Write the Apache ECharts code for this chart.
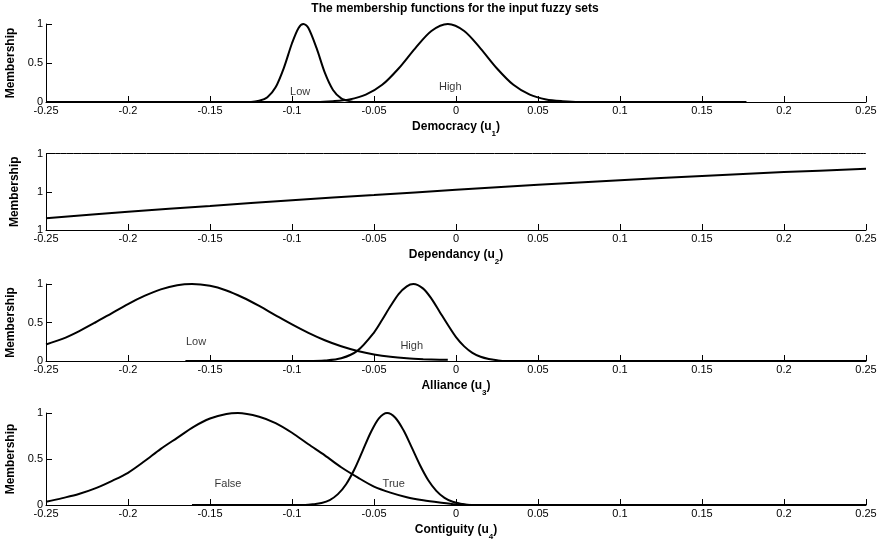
<!DOCTYPE html>
<html>
<head>
<meta charset="utf-8">
<script src="https://cdn.jsdelivr.net/npm/echarts@6/dist/echarts.min.js"></script>
<style>
  html, body { margin: 0; padding: 0; background: #fff; }
  #chart { width: 878px; height: 547px; }
</style>
</head>
<body>
<div id="chart"></div>
<script>
// Membership functions of the four fuzzy inputs, sampled as [u, membership]

// Democracy (u1)
const democracyLow = [
  [-0.19, 0], [-0.125, 0], [-0.12, 0.015], [-0.115, 0.061], [-0.11, 0.188],
  [-0.105, 0.435], [-0.1, 0.753], [-0.096, 0.95], [-0.093, 1.0], [-0.09, 0.95],
  [-0.085, 0.69], [-0.08, 0.376], [-0.075, 0.154], [-0.07, 0.047],
  [-0.065, 0.011], [-0.06, 0], [0.177, 0]
];
const democracyHigh = [
  [-0.25, 0], [-0.085, 0], [-0.075, 0.01], [-0.065, 0.033], [-0.055, 0.094],
  [-0.045, 0.22], [-0.035, 0.43], [-0.025, 0.685], [-0.015, 0.91], [-0.005, 1.0],
  [0.005, 0.91], [0.015, 0.685], [0.025, 0.43], [0.035, 0.22], [0.045, 0.094],
  [0.055, 0.033], [0.065, 0.01], [0.075, 0], [0.177, 0]
];

// Dependancy (u2)
const dependancyRise = [
  [-0.25, 0.155], [-0.2, 0.24], [-0.15, 0.315], [-0.1, 0.39], [-0.05, 0.458],
  [0, 0.525], [0.05, 0.59], [0.1, 0.65], [0.15, 0.707], [0.2, 0.757], [0.25, 0.8]
];
const dependancyFlat = [[-0.25, 1], [0.25, 1]];

// Alliance (u3)
const allianceLow = [
  [-0.25, 0.215], [-0.24, 0.287], [-0.23, 0.386], [-0.22, 0.5], [-0.21, 0.62],
  [-0.2, 0.74], [-0.19, 0.845], [-0.18, 0.93], [-0.17, 0.984], [-0.161, 1.0],
  [-0.15, 0.976], [-0.14, 0.916], [-0.13, 0.825], [-0.12, 0.715], [-0.11, 0.594],
  [-0.1, 0.475], [-0.09, 0.365], [-0.08, 0.269], [-0.07, 0.191], [-0.06, 0.13],
  [-0.05, 0.085], [-0.04, 0.054], [-0.03, 0.035], [-0.02, 0.024], [-0.01, 0.017],
  [-0.005, 0.015]
];
const allianceHigh = [
  [-0.165, 0], [-0.09, 0], [-0.08, 0.006], [-0.07, 0.035], [-0.06, 0.135],
  [-0.05, 0.37], [-0.045, 0.535], [-0.04, 0.71], [-0.035, 0.87], [-0.03, 0.97],
  [-0.026, 1.0], [-0.02, 0.94], [-0.015, 0.81], [-0.01, 0.64], [-0.005, 0.47],
  [0, 0.31], [0.005, 0.19], [0.01, 0.106], [0.015, 0.055], [0.02, 0.026],
  [0.025, 0.01], [0.03, 0], [0.25, 0]
];

// Contiguity (u4)
const contiguityFalse = [
  [-0.25, 0.035], [-0.24, 0.075], [-0.23, 0.119], [-0.22, 0.18], [-0.21, 0.26],
  [-0.2, 0.35], [-0.19, 0.475], [-0.18, 0.61], [-0.17, 0.73], [-0.16, 0.85],
  [-0.15, 0.94], [-0.14, 0.99], [-0.133, 1.0], [-0.12, 0.96], [-0.11, 0.89],
  [-0.1, 0.785], [-0.09, 0.66], [-0.08, 0.54], [-0.07, 0.41], [-0.06, 0.3],
  [-0.05, 0.2], [-0.04, 0.135], [-0.03, 0.085], [-0.02, 0.052], [-0.01, 0.028],
  [0, 0.008], [0.01, 0]
];
const contiguityTrue = [
  [-0.161, 0], [-0.092, 0], [-0.087, 0.008], [-0.082, 0.022], [-0.077, 0.054],
  [-0.072, 0.118], [-0.067, 0.226], [-0.062, 0.386], [-0.057, 0.586],
  [-0.052, 0.788], [-0.047, 0.942], [-0.042, 1.0], [-0.037, 0.949],
  [-0.032, 0.812], [-0.027, 0.626], [-0.022, 0.435], [-0.017, 0.272],
  [-0.012, 0.154], [-0.007, 0.078], [-0.002, 0.036], [0.003, 0.015],
  [0.008, 0], [0.25, 0]
];

// Term names and the axis names of each input
const democracyTerms = ['Low', 'High'];
const allianceTerms = ['Low', 'High'];
const contiguityTerms = ['False', 'True'];
const inputNames = ['Democracy', 'Dependancy', 'Alliance', 'Contiguity'];
const inputSubscripts = ['1', '2', '3', '4'];
const chartTitle = 'The membership functions for the input fuzzy sets';
const yTitle = 'Membership';

// Where each term name sits inside its panel (data units)
const termAnchors = [
  [[-0.095, 0.13], [-0.0035, 0.19]],
  null,
  [[-0.1585, 0.25], [-0.027, 0.2]],
  [[-0.139, 0.23], [-0.038, 0.23]]
];

const panels = [
  { top: 24, height: 78 },
  { top: 153.5, height: 76.5 },
  { top: 284, height: 77 },
  { top: 413, height: 92 }
];

const FONT = '"Liberation Sans", Arial, Helvetica, sans-serif';

const chart = echarts.init(document.getElementById('chart'), null, { renderer: 'canvas' });

const grids = panels.map(p => ({
  left: 46, right: 12, top: p.top, height: p.height,
  containLabel: false, outerBoundsMode: 'none'
}));

const xAxes = panels.map((p, i) => ({
  type: 'value', gridIndex: i, min: -0.25, max: 0.25, interval: 0.05,
  axisLine: { show: true, onZero: false, lineStyle: { color: '#000', width: 1 } },
  axisTick: { show: true, inside: true, length: 6, lineStyle: { color: '#000' } },
  splitLine: { show: false },
  axisLabel: {
    color: '#000', fontFamily: FONT, fontSize: 11, margin: 3,
    formatter: v => String(+v.toFixed(2))
  },
  name: '{b|' + inputNames[i] + ' (u}{s|' + inputSubscripts[i] + '}{b|)}',
  nameLocation: 'middle', nameGap: 19,
  nameTextStyle: {
    rich: {
      b: { fontFamily: FONT, fontSize: 12, fontWeight: 'bold', color: '#000', lineHeight: 17, verticalAlign: 'top' },
      s: { fontFamily: FONT, fontSize: 8, fontWeight: 'bold', color: '#000', lineHeight: 17, verticalAlign: 'bottom' }
    }
  }
}));

const yAxes = panels.map((p, i) => ({
  type: 'value', gridIndex: i, min: 0, max: 1, interval: 0.5,
  axisLine: { show: true, onZero: false, lineStyle: { color: '#000', width: 1 } },
  axisTick: { show: true, inside: true, length: 6, lineStyle: { color: '#000' } },
  splitLine: { show: false },
  axisLabel: {
    color: '#000', fontFamily: FONT, fontSize: 11, margin: 3,
    formatter: i === 1 ? () => '1' : v => String(v)
  },
  name: yTitle, nameLocation: 'middle', nameGap: 25, nameRotate: 90,
  nameTextStyle: { fontFamily: FONT, fontSize: 12, fontWeight: 'bold', color: '#000' }
}));

function curve(data, idx, width) {
  return {
    type: 'line', xAxisIndex: idx, yAxisIndex: idx, data: data,
    showSymbol: false, smooth: 0.3, silent: true, animation: false,
    lineStyle: { color: '#000', width: width || 2 }
  };
}

function termLabels(terms, anchors, idx) {
  return {
    type: 'scatter', xAxisIndex: idx, yAxisIndex: idx, symbolSize: 0, silent: true,
    animation: false,
    data: terms.map((t, k) => [anchors[k][0], anchors[k][1], t]),
    label: {
      show: true, position: 'inside', formatter: d => d.value[2],
      fontFamily: FONT, fontSize: 11, color: '#000'
    }
  };
}

const series = [
  curve(democracyLow, 0), curve(democracyHigh, 0),
  curve(dependancyRise, 1), curve(dependancyFlat, 1, 1),
  curve(allianceLow, 2), curve(allianceHigh, 2),
  curve(contiguityFalse, 3), curve(contiguityTrue, 3),
  termLabels(democracyTerms, termAnchors[0], 0),
  termLabels(allianceTerms, termAnchors[2], 2),
  termLabels(contiguityTerms, termAnchors[3], 3)
];

chart.setOption({
  backgroundColor: '#fff',
  animation: false,
  grid: grids,
  xAxis: xAxes,
  yAxis: yAxes,
  series: series,
  // overall title, centred over the plotting area
  graphic: [{
    type: 'text', x: 455, y: 3,
    style: { text: chartTitle, font: 'bold 12px ' + FONT, fill: '#000', align: 'center' }
  }]
});
</script>
</body>
</html>
